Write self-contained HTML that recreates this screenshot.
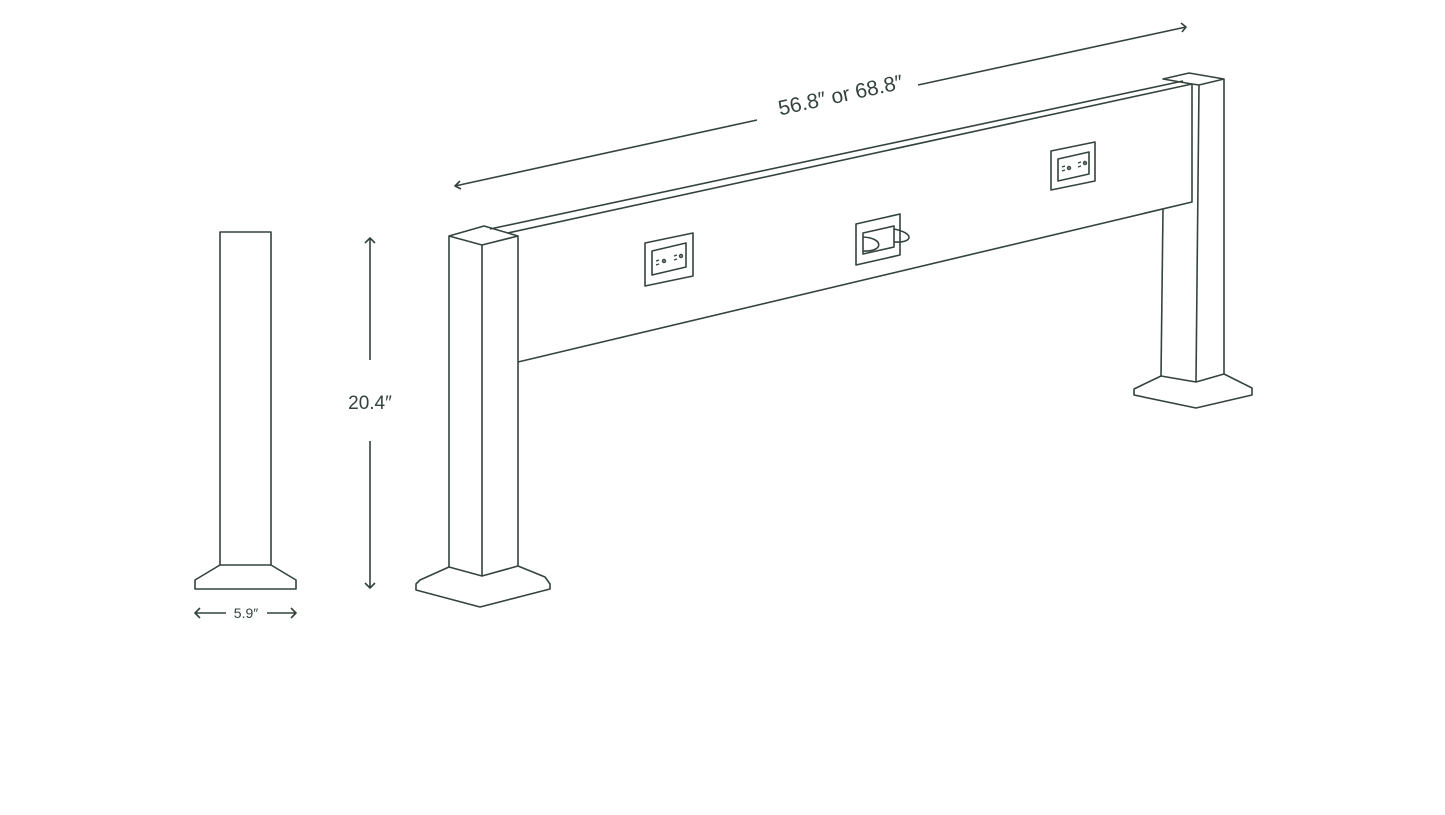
<!DOCTYPE html>
<html><head><style>body{margin:0;background:#fff}svg{display:block}</style></head><body>
<svg width="1445" height="815" viewBox="0 0 1445 815" fill="none" stroke="#34443c" stroke-width="1.6" stroke-linejoin="round" font-family="Liberation Sans, sans-serif">
<!-- left profile -->
<rect x="220" y="232" width="51" height="333"/>
<path d="M220 565 L195 580 L195 589 L296 589 L296 580 L271 565"/>
<path d="M226 613 H195 M200 608 L195 613 L200 618 M267 613 H296 M291 608 L296 613 L291 618"/>
<text x="246" y="618" font-size="14" fill="#34443c" stroke="none" text-anchor="middle">5.9″</text>
<!-- height dim -->
<path d="M370 238 V360 M365 243 L370 238 L375 243 M370 441 V588 M365 583 L370 588 L375 583"/>
<text x="370" y="409" font-size="19" fill="#34443c" stroke="none" text-anchor="middle">20.4″</text>
<!-- top dim -->
<path d="M455 186 L757 120 M918 85 L1186 27 M460 181 L455 186 L461 189 M1181 23 L1186 27 L1182 32"/>
<text x="842" y="102" font-size="21" fill="#34443c" stroke="none" text-anchor="middle" transform="rotate(-12.3 842 102)">56.8″ or 68.8″</text>
<!-- panel -->
<path d="M490 229 L1183 81 M508 233 L1192 84 L1192 202 L518 362"/>
<!-- left post -->
<path d="M449 236 L484 226 L518 236 L482 245 Z M449 236 V567 M482 245 V576 M518 236 V566"/>
<path d="M449 567 L482 576 L518 566 L545 577 L550 584 L550 589 L480 607 L416 590 L416 584 L420 580 Z"/>
<!-- right post -->
<path d="M1163 79 L1189 73 L1224 79 L1199 85 L1192 84 Z M1199 85 L1196 382 M1224 79 V374 M1163 209 L1161 376"/>
<path d="M1161 376 L1196 382 L1224 374 L1252 388 L1252 395 L1196 408 L1134 395 L1134 389 Z"/>
<!-- outlets -->
<path d="M645 243 L693 233 L693 276 L645 286 Z M652 251 L686 243 L686 267 L652 275 Z"/>
<path d="M656 261 l3 -1 M656 265 l3 -1 M674 256 l3 -1 M674 260 l3 -1" stroke-width="1.2"/>
<circle cx="664" cy="261" r="1.4"/><circle cx="681" cy="256" r="1.4"/>
<path d="M1051 151 L1095 142 L1095 181 L1051 190 Z M1058 159 L1089 152 L1089 174 L1058 181 Z"/>
<path d="M1062 167 l3 -1 M1062 171 l3 -1 M1078 163 l3 -1 M1078 167 l3 -1" stroke-width="1.2"/>
<circle cx="1069" cy="168" r="1.4"/><circle cx="1085" cy="163" r="1.4"/>
<path d="M856 224 L900 214 L900 255 L856 265 Z M863 233 L894 226 L894 247 L863 254 Z"/>
<path d="M863 237 C884 238 884 252 863 251 M894 229 C914 233 914 243 894 242"/>
</svg>
</body></html>
